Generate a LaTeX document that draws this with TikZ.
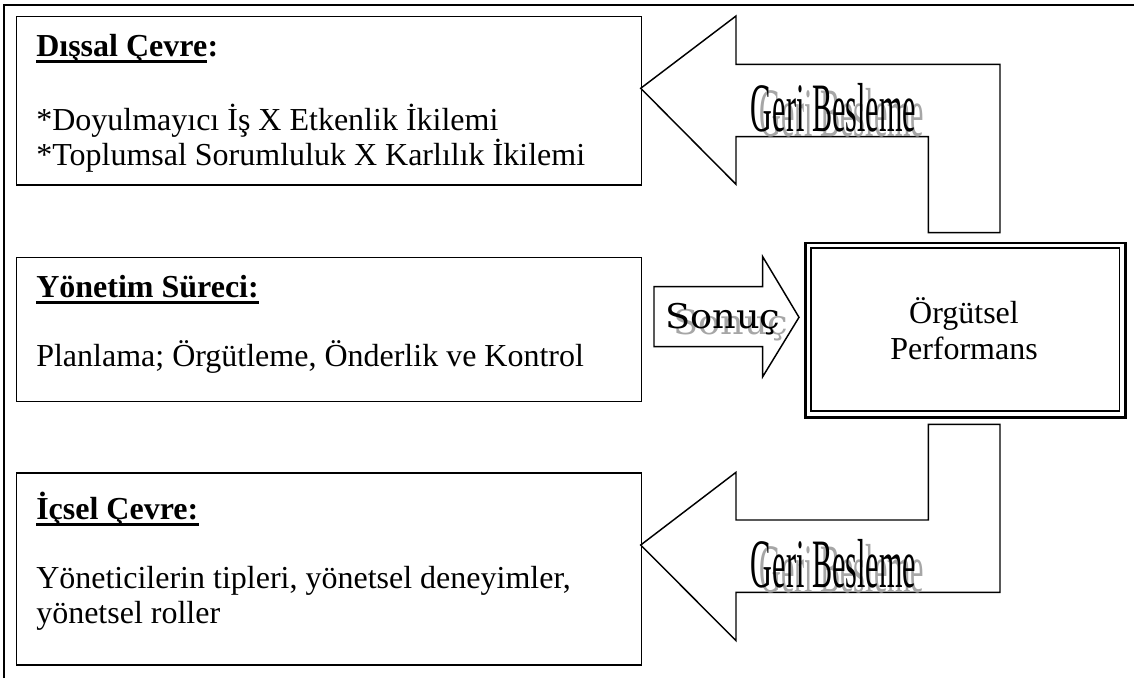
\documentclass[tikz,border=0pt]{standalone}
\usepackage{fontspec}
\usepackage{graphicx}
\setmainfont{Liberation Serif}
\newfontfamily\sonucfont{DejaVu Serif}
\begin{document}
\begin{tikzpicture}[x=0.75pt,y=-0.75pt,
  frameline/.style={line width=1.5pt},
  box/.style={draw, line width=1.1pt, fill=white, inner sep=0pt, anchor=north west},
  blockarrow/.style={draw, line width=1.1pt, fill=white, line join=miter},
  txt/.style={anchor=base west, inner sep=0pt, font=\fontsize{24}{26}\selectfont},
  hdr/.style={txt, font=\fontsize{24}{26}\selectfont\bfseries},
  ctxt/.style={txt, anchor=base},
  ul/.style={line width=1.9pt},
  fbtext/.style={anchor=base west, inner sep=0pt, font=\fontsize{52}{56}\selectfont},
  sontext/.style={anchor=base west, inner sep=0pt, font=\sonucfont\fontsize{25.5}{28}\selectfont},
  shade/.style={text=black!35},
]
\useasboundingbox (0,0) rectangle (1134,678);
\fill[white] (0,0) rectangle (1134,678);

% page frame (left and top edges)
\draw[frameline] (4,678) -- (4,5) -- (1134,5);

% three factor boxes
\node[box, minimum width=624.7*0.75pt, minimum height=168.3*0.75pt] (dis) at (16,16) {};
\node[box, minimum width=624.7*0.75pt, minimum height=144*0.75pt] (yon) at (16,256.7) {};
\node[box, minimum width=624.7*0.75pt, minimum height=192*0.75pt] (ic) at (16,472.3) {};

% result box with double border
\node[box, line width=2pt, minimum width=319.7*0.75pt, minimum height=174.3*0.75pt] (perf) at (804.3,241.7) {};
\node[box, line width=1.3pt, minimum width=308.7*0.75pt, minimum height=162.7*0.75pt] (perfin) at (810,247.3) {};
\node[ctxt] (perf1) at (964,323) {Örgütsel};
\node[ctxt] (perf2) at (964,359) {Performans};

% feedback arrow to the external environment
\draw[blockarrow] (640.7,88.3) -- (736,16) -- (736,64.3) -- (1000,64.3) -- (1000,232.7)
  -- (928.3,232.7) -- (928.3,136.7) -- (736,136.7) -- (736,184.3) -- cycle;
% feedback arrow to the internal environment
\draw[blockarrow] (640.7,545) -- (736,472.3) -- (736,520) -- (928.3,520) -- (928.3,424.3)
  -- (1000,424.3) -- (1000,592.3) -- (736,592.3) -- (736,640.7) -- cycle;
% result arrow
\draw[blockarrow] (654,286.7) -- (762.7,286.7) -- (762.7,256.7) -- (799,317.3)
  -- (762.7,376.7) -- (762.7,346.7) -- (654,346.7) -- cycle;

% arrow captions with grey shadows
\node[fbtext, shade] (fb1s) at (759,136) {\scalebox{0.435}[1]{Geri Besleme}};
\node[fbtext] (fb1) at (750.7,131) {\scalebox{0.435}[1]{Geri Besleme}};
\node[fbtext, shade] (fb2s) at (759,592) {\scalebox{0.435}[1]{Geri Besleme}};
\node[fbtext] (fb2) at (750.7,587) {\scalebox{0.435}[1]{Geri Besleme}};
\node[sontext, shade] (sons) at (673,334.5) {\scalebox{1.08}[1]{Sonuç}};
\node[sontext] (son) at (665,328) {\scalebox{1.08}[1]{Sonuç}};

% external environment
\node[hdr] (dish) at (36,56) {Dışsal Çevre};
\node[hdr, anchor=base west] (dishc) at (dish.base east) {:};
\draw[ul] ([yshift=-4pt]dish.base west) -- ([yshift=-4pt]dish.base east);
\node[txt] (dis1) at (36,130) {*Doyulmayıcı İş X Etkenlik İkilemi};
\node[txt] (dis2) at (36,165) {*Toplumsal Sorumluluk X Karlılık İkilemi};

% management process
\node[hdr] (yonh) at (36,297) {Yönetim Süreci:};
\draw[ul] ([yshift=-4pt]yonh.base west) -- ([yshift=-4pt]yonh.base east);
\node[txt] (yon1) at (36,366) {Planlama; Örgütleme, Önderlik ve Kontrol};

% internal environment
\node[hdr] (ich) at (36,519) {İçsel Çevre:};
\draw[ul] ([yshift=-4pt]ich.base west) -- ([yshift=-4pt]ich.base east);
\node[txt] (ic1) at (36,588) {Yöneticilerin tipleri, yönetsel deneyimler,};
\node[txt] (ic2) at (36,623) {yönetsel roller};
\end{tikzpicture}
\end{document}
